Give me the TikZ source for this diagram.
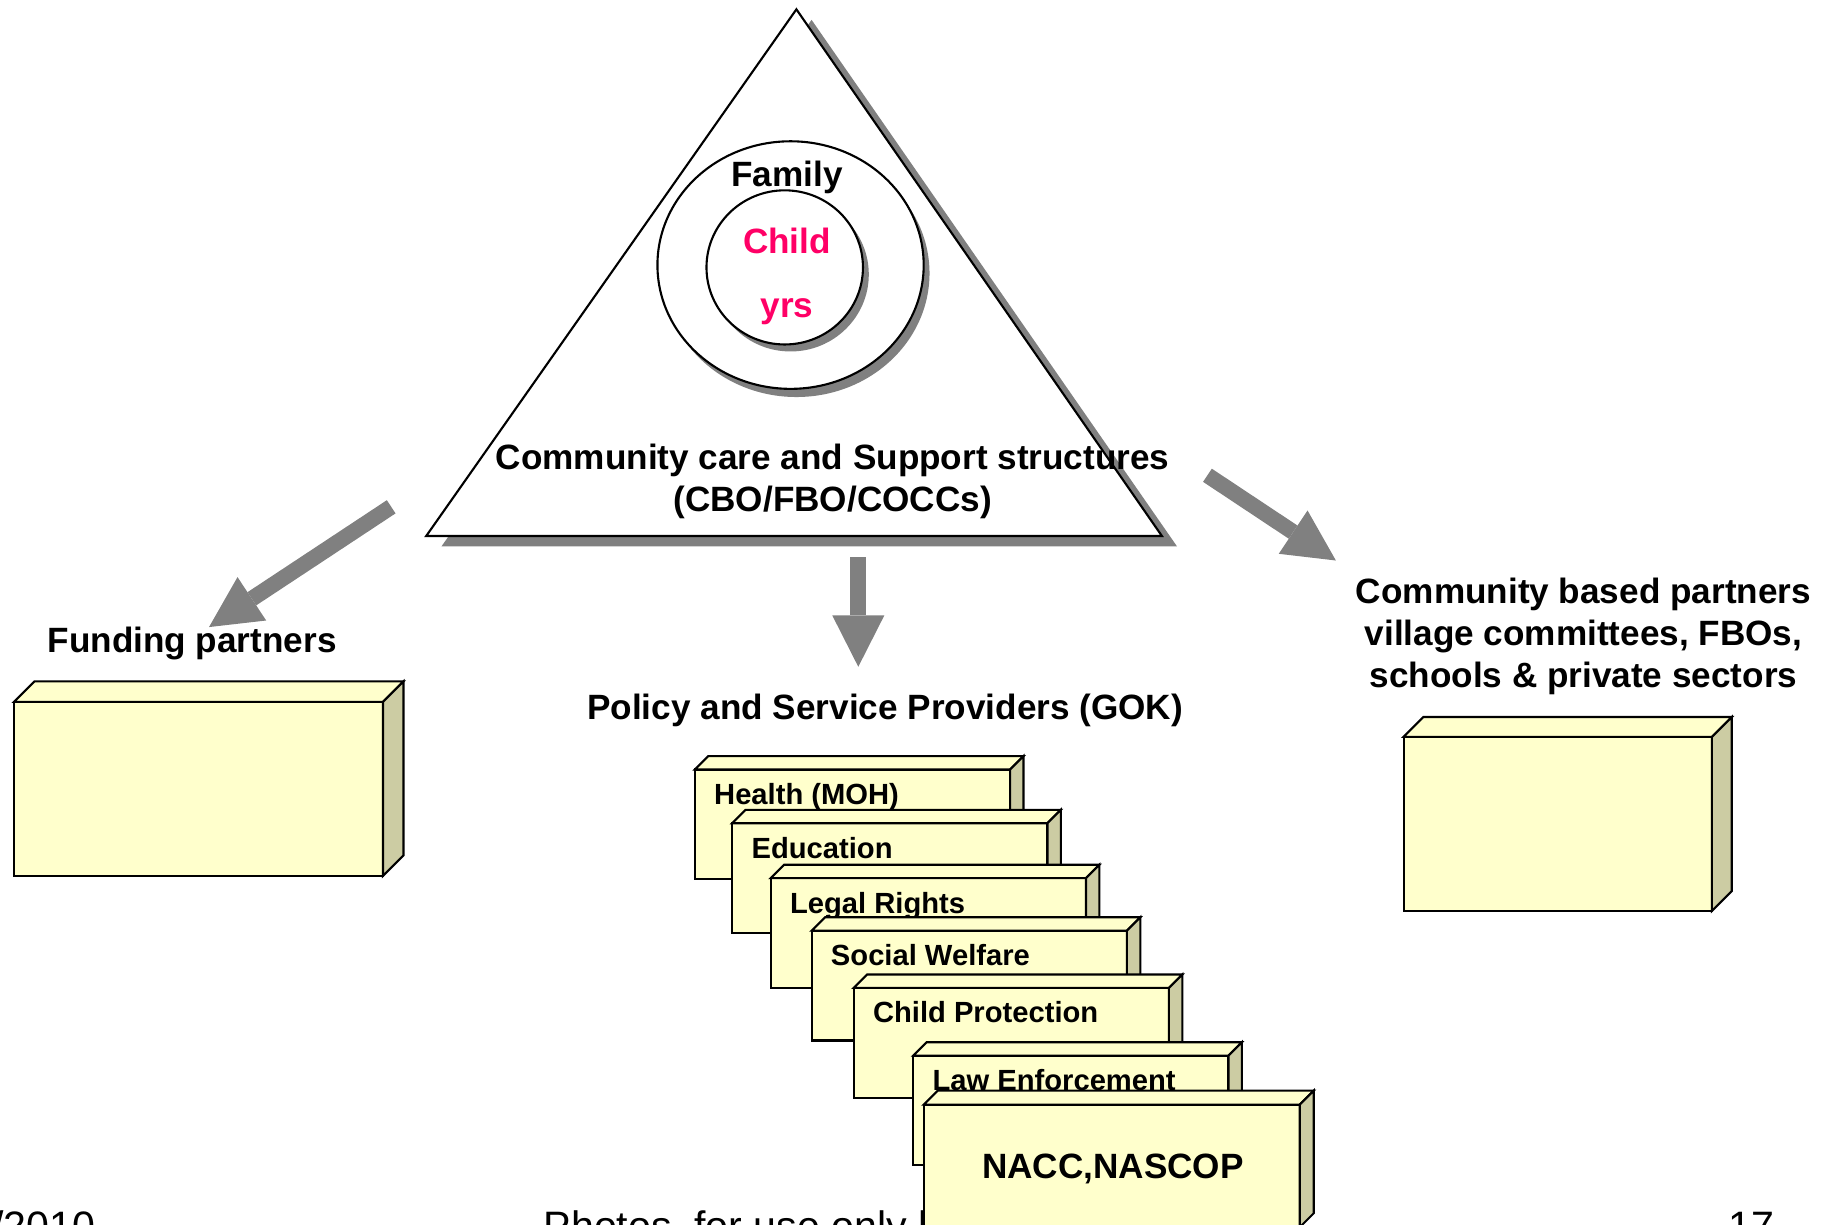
\documentclass[tikz,border=0pt]{standalone}
\usepackage{fontspec}
\setmainfont{Liberation Sans}
\usetikzlibrary{arrows.meta,calc}

\definecolor{boxyellow}{RGB}{255,255,204}
\definecolor{boxside}{RGB}{204,204,163}
\definecolor{dropgray}{RGB}{128,128,128}
\definecolor{childpink}{RGB}{255,0,102}

\newcommand{\px}{0.11677mm}

\begin{document}
\begin{tikzpicture}[x=0.11677mm, y=-0.11677mm,
    bigtext/.style={font=\fontsize{10}{12}\selectfont\bfseries, inner sep=0pt, align=center, anchor=base},
    stacktext/.style={font=\fontsize{8.3}{10}\selectfont\bfseries, inner sep=0pt, anchor=base west},
    foottext/.style={font=\fontsize{11.7}{14}\selectfont, inner sep=0pt},
    grayshadow/.style={fill=dropgray, draw=none},
    outline/.style={draw=black, line width=0.6pt},
    front/.style={outline, fill=boxyellow, rectangle, inner sep=0pt, outer sep=0pt},
    top face/.style={outline, fill=boxyellow},
    side face/.style={outline, fill=boxside},
    block arrow/.style={draw=dropgray, line width=4.5pt,
      -{Triangle[width=14.8pt, length=14.6pt, line width=0pt]}}]

      \useasboundingbox (0,0) rectangle (1568,1049);
      \clip (0,0) rectangle (1568,1049);

      % the triangle with family and child
      \coordinate (apex) at (682,8);
      \coordinate (base left) at (365,459);
      \coordinate (base right) at (995,459);
      \fill[grayshadow] ([shift={(13,9)}]apex) -- ([shift={(13,9)}]base left) -- ([shift={(13,9)}]base right) -- cycle;
      \draw[outline, fill=white] (apex) -- (base left) -- (base right) -- cycle;

      \fill[grayshadow] (682,234) ellipse [x radius=114, y radius=106];
      \draw[outline, fill=white] (677,227) ellipse [x radius=114, y radius=106];
      \fill[grayshadow] (677,235) ellipse [x radius=67, y radius=66];
      \draw[outline, fill=white] (672,229) ellipse [x radius=67, y radius=66];

      \node[bigtext] (family) at (674,160) {Family};
      \node[bigtext, text=childpink] (child) at (674,217) {Child};
      \node[bigtext, text=childpink] (yrs) at (674,272) {yrs};
      % base of a two line node is its last line
      \node[bigtext] (community) at (713,438) {Community care and Support structures\\(CBO/FBO/COCCs)};

      % labels
      \node[bigtext] (funding) at (164.5,559) {Funding partners};
      \node[bigtext] (policy) at (758,616) {Policy and Service Providers (GOK)};
      \node[bigtext] (partners) at (1356,589) {Community based partners\\village committees, FBOs,\\schools \& private sectors};

      % arrows
      \coordinate (left start) at (335,434);
      \coordinate (left tip) at (179,537);
      \coordinate (mid start) at (735,477);
      \coordinate (mid tip) at (735,571);
      \coordinate (right start) at (1034,407);
      \coordinate (right tip) at (1144,480);
      \draw[block arrow] (left start) -- (left tip);
      \draw[block arrow] (mid start) -- (mid tip);
      \draw[block arrow] (right start) -- (right tip);

      % side boxes
      \node[front, minimum width=316*\px, minimum height=149*\px, anchor=north west] (fundbox) at (12,601) {};
      \draw[top face] (fundbox.north west) -- ++(17.5,-17.5) -- ++(316,0) -- (fundbox.north east) -- cycle;
      \draw[side face] (fundbox.north east) -- ++(17.5,-17.5) -- ++(0,149) -- (fundbox.south east) -- cycle;

      \node[front, minimum width=264*\px, minimum height=149*\px, anchor=north west] (partnerbox) at (1202,631) {};
      \draw[top face] (partnerbox.north west) -- ++(17,-17) -- ++(264,0) -- (partnerbox.north east) -- cycle;
      \draw[side face] (partnerbox.north east) -- ++(17,-17) -- ++(0,149) -- (partnerbox.south east) -- cycle;

      % footer
      \node[foottext, anchor=base east] (date) at (82,1062) {/2010};
      \node[foottext, anchor=base west] (photos) at (465,1062) {Photos, for use only b};
      \node[foottext, anchor=base west] (page) at (1480,1062) {17};

      % stack of providers
      \foreach \x/\y/\n/\t in {595/659/health/{Health (MOH)}, 627/705/education/Education,
          660/752/legal/{Legal Rights}, 695/797/welfare/{Social Welfare},
          731/846/protection/{Child Protection}, 782/904/law/{Law Enforcement}} {
        \node[front, minimum width=270*\px, minimum height=94*\px, anchor=north west] (\n) at (\x,\y) {};
        \draw[top face] (\n.north west) -- ++(11.5,-11.5) -- ++(270,0) -- (\n.north east) -- cycle;
        \draw[side face] (\n.north east) -- ++(11.5,-11.5) -- ++(0,94) -- (\n.south east) -- cycle;
        \node[stacktext] (\n-text) at ($(\n.north west)+(16,30)$) {\t};
      }

      \node[front, minimum width=322*\px, minimum height=105*\px, anchor=north west] (nacc) at (791,946) {};
      \draw[top face] (nacc.north west) -- ++(12,-12) -- ++(322,0) -- (nacc.north east) -- cycle;
      \draw[side face] (nacc.north east) -- ++(12,-12) -- ++(0,105) -- (nacc.south east) -- cycle;
      \node[bigtext] (nacc-text) at (953,1009) {NACC,NASCOP};
    \end{tikzpicture}
\end{document}
